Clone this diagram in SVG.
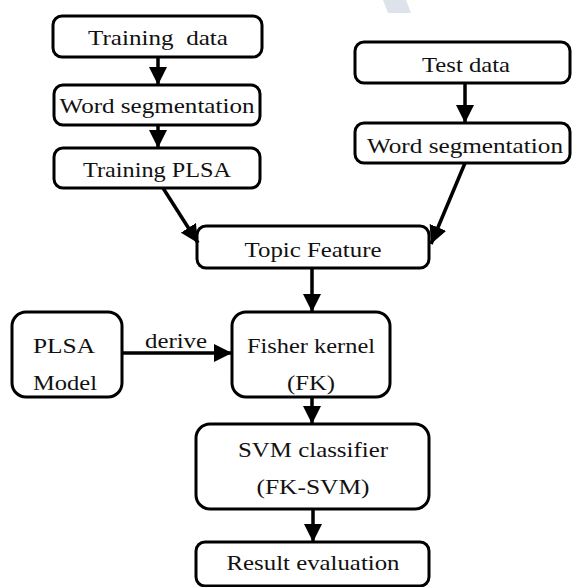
<svg xmlns="http://www.w3.org/2000/svg" width="572" height="587" viewBox="0 0 572 587">
<style>
.box{fill:#fff;stroke:#000;stroke-width:3}
.t{font-family:"Liberation Serif","Times New Roman",serif;font-size:22px;fill:#111;text-anchor:middle}
.c{stroke:#000;stroke-width:3.5;fill:none}
</style>
<defs>
<marker id="ah" markerUnits="userSpaceOnUse" markerWidth="18" markerHeight="18" viewBox="0 0 16 16" refX="16" refY="8" orient="auto">
<path d="M0,0 L16,8 L0,16 Z" fill="#000"/>
</marker>
</defs>
<rect width="572" height="587" fill="#fff"/>
<polygon points="383,0 406,0 411,13 388,13" fill="#dde3ea"/>
<g id="training-data"><rect class="box" x="53" y="16" width="209" height="41" rx="9"/><text class="t" x="158" y="45" textLength="140" lengthAdjust="spacingAndGlyphs" xml:space="preserve">Training  data</text></g>
<g id="word-seg-left"><rect class="box" x="54" y="85" width="206" height="40" rx="9"/><text class="t" x="157" y="113" textLength="195" lengthAdjust="spacingAndGlyphs">Word segmentation</text></g>
<g id="training-plsa"><rect class="box" x="54" y="148" width="206" height="40" rx="9"/><text class="t" x="157" y="177" textLength="148" lengthAdjust="spacingAndGlyphs">Training PLSA</text></g>
<g id="test-data"><rect class="box" x="355" y="42" width="215" height="41" rx="9"/><text class="t" x="466" y="72" textLength="88" lengthAdjust="spacingAndGlyphs">Test data</text></g>
<g id="word-seg-right"><rect class="box" x="355" y="123" width="215" height="40" rx="9"/><text class="t" x="465" y="153" textLength="196" lengthAdjust="spacingAndGlyphs">Word segmentation</text></g>
<g id="topic-feature"><rect class="box" x="197" y="226" width="232" height="42" rx="9"/><text class="t" x="313" y="257" textLength="137" lengthAdjust="spacingAndGlyphs">Topic Feature</text></g>
<g id="plsa-model"><rect class="box" x="12" y="312" width="110" height="85" rx="14"/><text class="t" x="64" y="353" textLength="62" lengthAdjust="spacingAndGlyphs">PLSA</text><text class="t" x="65" y="390" textLength="64" lengthAdjust="spacingAndGlyphs">Model</text></g>
<g id="fisher-kernel"><rect class="box" x="232" y="312" width="158" height="85" rx="14"/><text class="t" x="311" y="353" textLength="128" lengthAdjust="spacingAndGlyphs">Fisher kernel</text><text class="t" x="311" y="390" textLength="48" lengthAdjust="spacingAndGlyphs">(FK)</text></g>
<g id="svm-classifier"><rect class="box" x="196" y="424" width="233" height="85" rx="14"/><text class="t" x="313" y="457" textLength="150" lengthAdjust="spacingAndGlyphs">SVM classifier</text><text class="t" x="313" y="494" textLength="113" lengthAdjust="spacingAndGlyphs">(FK-SVM)</text></g>
<g id="result-evaluation"><rect class="box" x="196" y="542" width="233" height="44" rx="9"/><text class="t" x="313" y="570" textLength="173" lengthAdjust="spacingAndGlyphs">Result evaluation</text></g>
<g id="connectors">
<line class="c" x1="158" y1="57" x2="158" y2="85" marker-end="url(#ah)"/>
<line class="c" x1="158" y1="125" x2="158" y2="148" marker-end="url(#ah)"/>
<line class="c" x1="465" y1="83" x2="465" y2="123" marker-end="url(#ah)"/>
<line class="c" x1="163" y1="188" x2="198" y2="243" marker-end="url(#ah)"/>
<line class="c" x1="465" y1="163" x2="431" y2="244" marker-end="url(#ah)"/>
<line class="c" x1="312" y1="268" x2="312" y2="312" marker-end="url(#ah)"/>
<line class="c" x1="122" y1="353" x2="232" y2="353" marker-end="url(#ah)"/>
<text class="t" x="176" y="348" textLength="62" lengthAdjust="spacingAndGlyphs">derive</text>
<line class="c" x1="312" y1="397" x2="312" y2="424" marker-end="url(#ah)"/>
<line class="c" x1="313" y1="509" x2="313" y2="542" marker-end="url(#ah)"/>
</g>
</svg>
